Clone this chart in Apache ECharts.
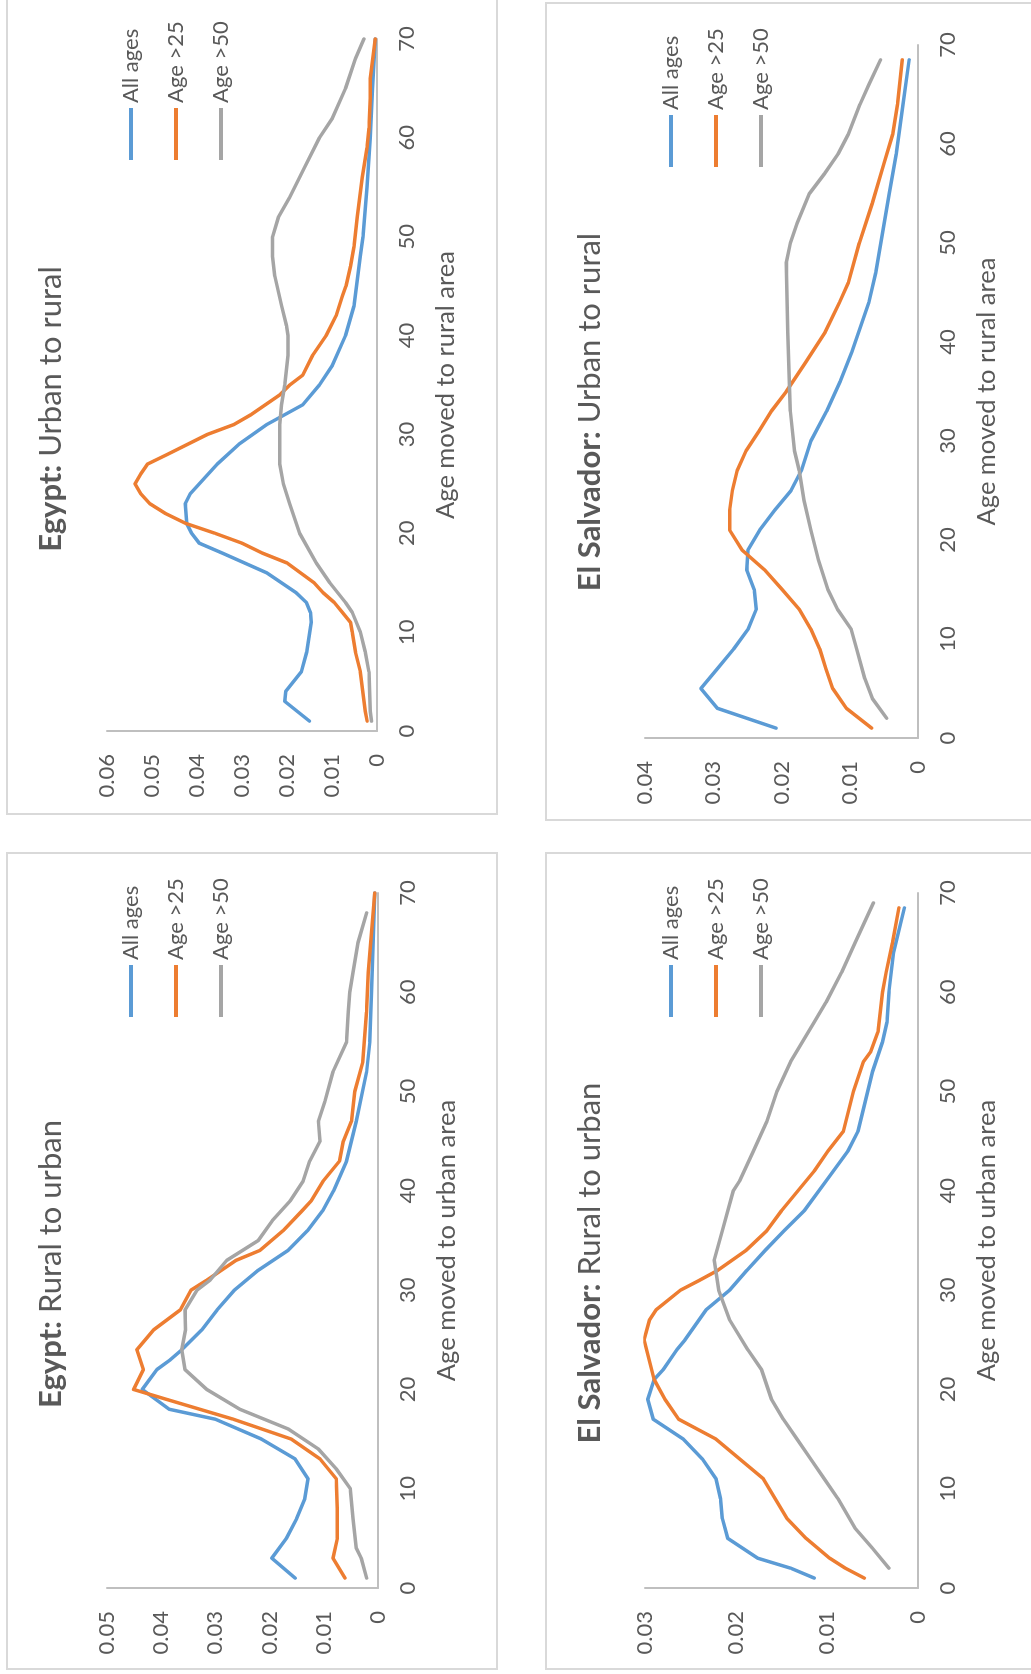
<!DOCTYPE html>
<html>
<head>
<meta charset="utf-8">
<script src="https://cdn.jsdelivr.net/npm/echarts@6/dist/echarts.min.js"></script>
<style>
  html, body { margin: 0; padding: 0; background: #ffffff; }
  body { width: 1031px; height: 1674px; overflow: hidden; position: relative; }
  #chart { position: absolute; left: 0; top: 0; width: 1674px; height: 1031px;
           transform-origin: 0 0; transform: translate(0px, 1674px) rotate(-90deg); }
</style>
</head>
<body>
<div id="chart"></div>
<script>
// ---- Data: [age moved, density] ----
const seriesNames = ['All ages', 'Age >25', 'Age >50'];
const xTicks = [0, 10, 20, 30, 40, 50, 60, 70];

// Egypt: Rural to urban
const egyptRU_all = [[1,0.0153],[3,0.0196],[5,0.0169],[7,0.0150],[9,0.0135],[11,0.0129],[13,0.0153],[15,0.0215],[17,0.0300],[18,0.0385],[19,0.0410],[20,0.0435],[22,0.0408],[23,0.0383],[24,0.0362],[26,0.0325],[28,0.0297],[30,0.0265],[32,0.0221],[34,0.0166],[36,0.0130],[38,0.0102],[40,0.0082],[43,0.0058],[47,0.0040],[52,0.0021],[55,0.0015],[60,0.0012],[70,0.0006]];
const egyptRU_25 = [[1,0.0061],[3,0.0083],[5,0.0075],[8,0.0075],[11,0.0077],[13,0.0107],[15,0.0160],[17,0.0267],[19,0.0390],[20,0.0451],[22,0.0433],[24,0.0445],[26,0.0414],[28,0.0365],[30,0.0345],[31,0.0316],[33,0.0262],[34,0.0218],[36,0.0175],[38,0.0140],[39,0.0123],[41,0.0101],[43,0.0071],[45,0.0064],[47,0.0049],[50,0.0043],[53,0.0028],[58,0.0021],[62,0.0018],[66,0.0012],[70,0.0006]];
const egyptRU_50 = [[1,0.0021],[3,0.0031],[4,0.0040],[7,0.0046],[10,0.0051],[12,0.0077],[14,0.0110],[16,0.0165],[18,0.0255],[20,0.0316],[22,0.0356],[24,0.0362],[26,0.0355],[28,0.0356],[30,0.0334],[31,0.0310],[33,0.0279],[35,0.0221],[37,0.0195],[39,0.0162],[41,0.0138],[43,0.0126],[45,0.0107],[47,0.0110],[49,0.0098],[52,0.0083],[55,0.0058],[58,0.0055],[60,0.0052],[62,0.0046],[65,0.0037],[68,0.0021]];

// Egypt: Urban to rural
const egyptUR_all = [[1,0.0150],[3,0.0205],[4,0.0203],[6,0.0168],[8,0.0156],[11,0.0146],[12,0.0148],[13,0.0157],[14,0.0180],[16,0.0245],[18,0.0344],[19,0.0395],[20,0.0412],[21,0.0423],[23,0.0426],[24,0.0415],[25,0.0395],[27,0.0355],[29,0.0307],[31,0.0245],[32,0.0205],[33,0.0165],[35,0.0128],[37,0.0099],[40,0.0070],[43,0.0051],[48,0.0037],[50,0.0031],[55,0.0022],[60,0.0015],[65,0.0010],[70,0.0004]];
const egyptUR_25 = [[1,0.0022],[2,0.0026],[6,0.0037],[8,0.0048],[10,0.0055],[11,0.0059],[12,0.0077],[13,0.0095],[14,0.0120],[15,0.0140],[16,0.0170],[17,0.0200],[18,0.0255],[19,0.0300],[20,0.0360],[21,0.0425],[22,0.0470],[23,0.0505],[24,0.0525],[25,0.0538],[26,0.0525],[27,0.0510],[28,0.0465],[30,0.0377],[31,0.0318],[32,0.0280],[34,0.0216],[35,0.0194],[36,0.0165],[38,0.0143],[40,0.0113],[42,0.0091],[44,0.0077],[45,0.0069],[47,0.0059],[49,0.0051],[52,0.0044],[56,0.0033],[59,0.0022],[61,0.0018],[64,0.0015],[66,0.0015],[70,0.0004]];
const egyptUR_50 = [[1,0.0012],[2,0.0015],[6,0.0018],[8,0.0026],[10,0.0037],[12,0.0055],[13,0.0070],[15,0.0105],[17,0.0135],[20,0.0172],[23,0.0194],[25,0.0208],[27,0.0216],[31,0.0216],[33,0.0212],[35,0.0205],[38,0.0198],[40,0.0198],[41,0.0201],[43,0.0212],[46,0.0227],[48,0.0232],[50,0.0232],[52,0.0219],[54,0.0194],[57,0.0161],[60,0.0128],[62,0.0099],[65,0.0070],[68,0.0048],[70,0.0029]];

// El Salvador: Rural to urban
const salvRU_all = [[1,0.0114],[2,0.0140],[3,0.0176],[5,0.0209],[7,0.0215],[9,0.0217],[11,0.0222],[13,0.0237],[15,0.0258],[17,0.0291],[19,0.0297],[21,0.0290],[22,0.0280],[24,0.0265],[25,0.0256],[28,0.0233],[30,0.0207],[32,0.0188],[34,0.0168],[36,0.0147],[38,0.0125],[41,0.0101],[44,0.0077],[46,0.0066],[49,0.0058],[52,0.0050],[55,0.0039],[57,0.0034],[60,0.0032],[64,0.0027],[68.5,0.0015]];
const salvRU_25 = [[1,0.0059],[2,0.0080],[3,0.0097],[5,0.0123],[7,0.0144],[11,0.0170],[13,0.0196],[15,0.0222],[17,0.0263],[19,0.0278],[21,0.0290],[25,0.0301],[27,0.0295],[28,0.0288],[30,0.0261],[31,0.0240],[32,0.0220],[34,0.0189],[36,0.0166],[38,0.0150],[42,0.0114],[44,0.0099],[46,0.0082],[50,0.0071],[53,0.0060],[54,0.0052],[56,0.0044],[60,0.0039],[62,0.0035],[65,0.0028],[68.5,0.0021]];
const salvRU_50 = [[2,0.0032],[4,0.0050],[6,0.0069],[9,0.0088],[11,0.0103],[13,0.0118],[15,0.0133],[17,0.0148],[19,0.0161],[22,0.0172],[24,0.0187],[27,0.0207],[30,0.0219],[33,0.0224],[36,0.0215],[40,0.0203],[41,0.0196],[44,0.0181],[47,0.0166],[50,0.0155],[53,0.0140],[57,0.0114],[59,0.0101],[62,0.0084],[65,0.0069],[69,0.0049]];

// El Salvador: Urban to rural
const salvUR_all = [[1,0.0208],[3,0.0294],[5,0.0318],[7,0.0294],[9,0.0270],[11,0.0249],[13,0.0237],[15,0.0240],[17,0.0251],[19,0.0249],[21,0.0232],[23,0.0210],[25,0.0186],[27,0.0171],[30,0.0157],[33,0.0134],[36,0.0114],[39,0.0097],[44,0.0072],[47,0.0062],[51,0.0052],[55,0.0042],[59,0.0032],[64,0.0022],[68.5,0.0013]];
const salvUR_25 = [[1,0.0068],[3,0.0105],[5,0.0125],[7,0.0135],[9,0.0144],[11,0.0157],[13,0.0174],[15,0.0199],[17,0.0225],[19,0.0258],[21,0.0276],[23,0.0276],[25,0.0272],[27,0.0265],[29,0.0252],[31,0.0233],[33,0.0215],[35,0.0193],[38,0.0164],[41,0.0136],[44,0.0115],[46,0.0102],[50,0.0086],[54,0.0067],[58,0.0050],[61,0.0037],[64,0.0030],[68.5,0.0023]];
const salvUR_50 = [[2,0.0046],[4,0.0067],[6,0.0078],[9,0.0090],[11,0.0098],[13,0.0118],[15,0.0132],[18,0.0146],[21,0.0157],[24,0.0167],[27,0.0174],[29,0.0181],[33,0.0187],[37,0.0189],[41,0.0191],[48,0.0193],[50,0.0187],[52,0.0177],[55,0.0159],[57,0.0137],[59,0.0117],[61,0.0102],[64,0.0085],[66,0.0072],[68.5,0.0055]];

const yMax = [0.05, 0.06, 0.03, 0.04];
const panelTitles = [['Egypt:', ' Rural to urban'], ['Egypt:', ' Urban to rural'], ['El Salvador:', ' Rural to urban'], ['El Salvador:', ' Urban to rural']];
const axisNames = ['Age moved to urban area', 'Age moved to rural area', 'Age moved to urban area', 'Age moved to rural area'];
const panelData = [
  [egyptRU_all, egyptRU_25, egyptRU_50],
  [egyptUR_all, egyptUR_25, egyptUR_50],
  [salvRU_all, salvRU_25, salvRU_50],
  [salvUR_all, salvUR_25, salvUR_50]
];

// ---- Layout (landscape chart, rotated on the page) ----
const FONT = 'Lato';
const TXT = '#595959';
const colors = ['#5B9BD5', '#ED7D31', '#A5A5A5'];
const grids = [
  { left: 86,  top: 107, width: 695, height: 271 },
  { left: 943, top: 107, width: 692, height: 270 },
  { left: 86,  top: 645, width: 695, height: 273 },
  { left: 936, top: 645, width: 693, height: 273 }
];
const titlePos = [ {cx: 410, top: 35}, {cx: 1265, top: 35}, {cx: 411, top: 574}, {cx: 1262, top: 574} ];
const legendPos = [ {left: 657, top: 120}, {left: 1514, top: 120}, {left: 657, top: 660}, {left: 1507, top: 660} ];
const borders = [
  { x: 5,   y: 7,   width: 816, height: 490 },
  { x: 860, y: 7,   width: 900, height: 490 },
  { x: 5,   y: 546, width: 816, height: 520 },
  { x: 854, y: 546, width: 817, height: 520 }
];

const option = {
  animation: false,
  backgroundColor: '#ffffff',
  color: colors,
  grid: grids.map(g => Object.assign({ containLabel: false }, g)),
  title: titlePos.map((p, i) => ({
    text: '{b|' + panelTitles[i][0] + '}{r|' + panelTitles[i][1] + '}',
    left: p.cx, top: p.top, textAlign: 'center', padding: 0,
    textStyle: {
      rich: {
        b: { fontFamily: FONT, fontWeight: 'bold', fontSize: 31, color: TXT },
        r: { fontFamily: FONT, fontWeight: 'normal', fontSize: 31, color: TXT }
      }
    }
  })),
  legend: legendPos.map(p => ({
    orient: 'vertical', left: p.left, top: p.top, padding: 0,
    icon: 'rect', itemWidth: 52, itemHeight: 4, itemGap: 23,
    textStyle: { fontFamily: FONT, fontSize: 22, lineHeight: 22, color: TXT },
    data: seriesNames
  })),
  xAxis: grids.map((g, i) => ({
    gridIndex: i, type: 'value', min: xTicks[0], max: xTicks[xTicks.length - 1], interval: xTicks[1] - xTicks[0],
    axisLine: { show: true, lineStyle: { color: '#BFBFBF', width: 2 } },
    axisTick: { show: false }, splitLine: { show: false },
    axisLabel: { fontFamily: FONT, fontSize: 22, color: TXT, margin: 19 },
    name: axisNames[i], nameLocation: 'middle', nameGap: 56,
    nameTextStyle: { fontFamily: FONT, fontSize: 25.5, color: TXT }
  })),
  yAxis: grids.map((g, i) => ({
    gridIndex: i, type: 'value', min: 0, max: yMax[i], interval: 0.01,
    axisLine: { show: true, lineStyle: { color: '#BFBFBF', width: 2 } },
    axisTick: { show: false }, splitLine: { show: false },
    axisLabel: { fontFamily: FONT, fontSize: 22, color: TXT, margin: 23,
      formatter: v => (Math.abs(v) < 1e-9 ? '0' : v.toFixed(2)) }
  })),
  graphic: borders.map(b => ({
    type: 'rect', silent: true, z: -1,
    shape: b, style: { fill: 'none', stroke: '#D9D9D9', lineWidth: 2 }
  })),
  series: []
};

panelData.forEach((arr, p) => {
  arr.forEach((d, k) => {
    option.series.push({
      type: 'line', name: seriesNames[k], xAxisIndex: p, yAxisIndex: p,
      data: d, showSymbol: false, symbol: 'none', smooth: false,
      lineStyle: { width: 3.5, color: colors[k], cap: 'round', join: 'round' },
      itemStyle: { color: colors[k] }
    });
  });
});

const chart = echarts.init(document.getElementById('chart'), null, { renderer: 'canvas' });
chart.setOption(option);
</script>
</body>
</html>
